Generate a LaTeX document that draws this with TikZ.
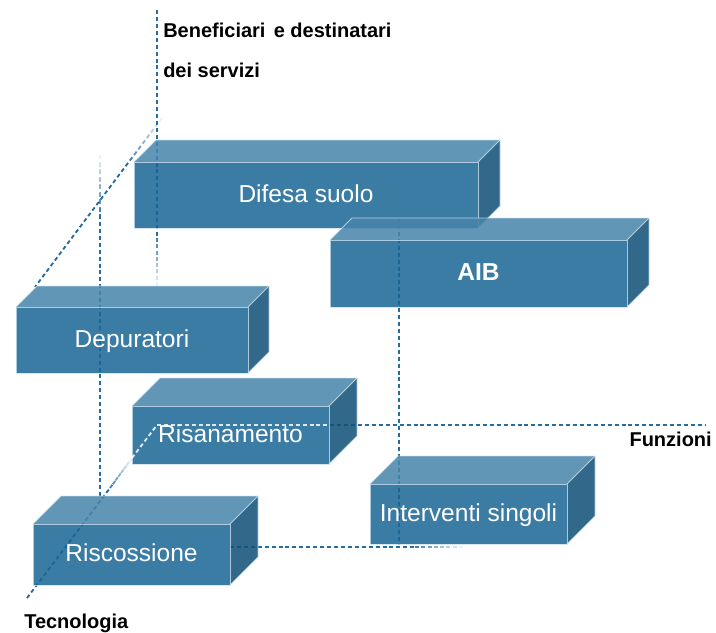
\documentclass[tikz,border=0pt]{standalone}
\usepackage{fontspec}
\setmainfont{Liberation Sans}
\usetikzlibrary{calc}
\definecolor{frontc}{RGB}{27,102,150}
\definecolor{topc}{RGB}{71,133,171}
\definecolor{sidec}{RGB}{16,80,120}
\definecolor{edgec}{RGB}{205,225,238}
\definecolor{dashc}{RGB}{38,108,160}
\tikzset{
  axisline/.style={draw=dashc, line width=1.4pt, dash pattern=on 3pt off 2.2pt},
  whiteline/.style={draw=white, draw opacity=0.85, line width=1.4pt, dash pattern=on 3pt off 2.2pt},
  boxedge/.style={draw=edgec, draw opacity=0.8, line width=0.6pt, line join=round},
  boxtext/.style={text=white, anchor=base, inner sep=0pt, font=\fontsize{18.4}{20}\selectfont},
  axislabel/.style={text=black, inner sep=0pt, font=\fontsize{15}{18}\selectfont\bfseries}
}
% #1 name, #2 x1, #3 y1, #4 x2, #5 y2, #6 depth, #7 extra text style, #8 text
\newcommand\mycube[8]{%
  \begin{scope}[fill opacity=0.86]
    \fill[topc] (#2,#3) -- ++(#6,-#6) -- ({#4+#6},{#3-#6}) -- (#4,#3) -- cycle;
    \fill[sidec] (#4,#3) -- ++(#6,-#6) -- ({#4+#6},{#5-#6}) -- (#4,#5) -- cycle;
    \fill[frontc] (#2,#3) rectangle (#4,#5);
  \end{scope}
  \draw[boxedge] (#2,#3) rectangle (#4,#5);
  \draw[boxedge] (#2,#3) -- ++(#6,-#6) -- ({#4+#6},{#3-#6}) -- ({#4+#6},{#5-#6}) -- (#4,#5);
  \draw[boxedge] (#4,#3) -- ({#4+#6},{#3-#6});
  \node[boxtext,#7] (#1) at ({(#2+#4)/2},{(#3+#5)/2+7}) {#8};
}
% faded dashed segment from #1 to #2, opacity #3 -> #4
\newcommand\fadeline[4]{%
  \foreach \i in {0,...,7}{%
    \pgfmathsetmacro\ta{\i/8}%
    \pgfmathsetmacro\tb{(\i+1)/8}%
    \pgfmathsetmacro\op{#3+(#4-#3)*(\i+0.5)/8}%
    \draw[axisline, draw opacity=\op] ($(#1)!\ta!(#2)$) -- ($(#1)!\tb!(#2)$);
  }%
}
\begin{document}
\begin{tikzpicture}[x=0.75pt,y=-0.75pt]
\useasboundingbox (0,0) rectangle (716,632);

% ---- axis coordinates ----
\coordinate (vA1) at (157,10);
\coordinate (vA2) at (157,238);
\coordinate (vA3) at (157,288);
\coordinate (dT0) at (162,118);
\coordinate (dT1) at (128,163);
\coordinate (dT2) at (35,287);
\coordinate (vB0) at (100,155);
\coordinate (vB1) at (100,215);
\coordinate (vB2) at (100,497);
\coordinate (tA) at (27,598);
\coordinate (tB) at (110,488);
\coordinate (tC) at (132,458);
\coordinate (tD) at (157,425);
\coordinate (fA) at (157,425);
\coordinate (fW) at (329,425);
\coordinate (fB) at (705,425);
\coordinate (hA) at (230,547);
\coordinate (hB) at (415,547);
\coordinate (hC) at (465,547);
\coordinate (vC1) at (399,218);
\coordinate (vC2) at (399,544);

% ---- dashed axes (behind boxes) ----
\draw[axisline] (vA1) -- (vA2);
\fadeline{vA2}{vA3}{0.9}{0.05}
\fadeline{dT0}{dT1}{0.05}{0.9}
\draw[axisline] (dT1) -- (dT2);
\fadeline{vB0}{vB1}{0.05}{0.9}
\draw[axisline] (vB1) -- (vB2);
\draw[axisline] (tA) -- (tB);
\fadeline{tB}{tC}{0.9}{0.05}
\draw[axisline] (fA) -- (fB);
\draw[axisline] (hA) -- (hB);
\fadeline{hB}{hC}{0.9}{0.05}
\draw[axisline] (vC1) -- (vC2);

% ---- boxes ----
\mycube{dep}{16}{307}{248}{373}{21}{}{Depuratori}
\mycube{dif}{134}{162}{478}{228}{22}{}{Difesa suolo}
\mycube{aib}{330}{240}{627}{307}{22}{font=\fontsize{18.4}{20}\selectfont\bfseries}{AIB}
\mycube{ris}{132}{406}{329}{464}{28}{}{Risanamento}
\draw[whiteline] (tC) -- (tD);
\draw[whiteline] (fA) -- (fW);
\mycube{risc}{33}{524}{230}{585}{28}{}{Riscossione}
\mycube{int}{370}{484}{567}{544}{28}{}{Interventi singoli}

% ---- axis labels ----
\node[axislabel, anchor=base west] (lben) at (163,37) {Beneficiari\hspace{2pt} e destinatari};
\node[axislabel, anchor=base west] (lser) at (163,77) {dei servizi};
\node[axislabel, anchor=base east] (lfun) at (712,446) {Funzioni};
\node[axislabel, anchor=base west] (ltec) at (24,628) {Tecnologia};
\end{tikzpicture}
\end{document}
